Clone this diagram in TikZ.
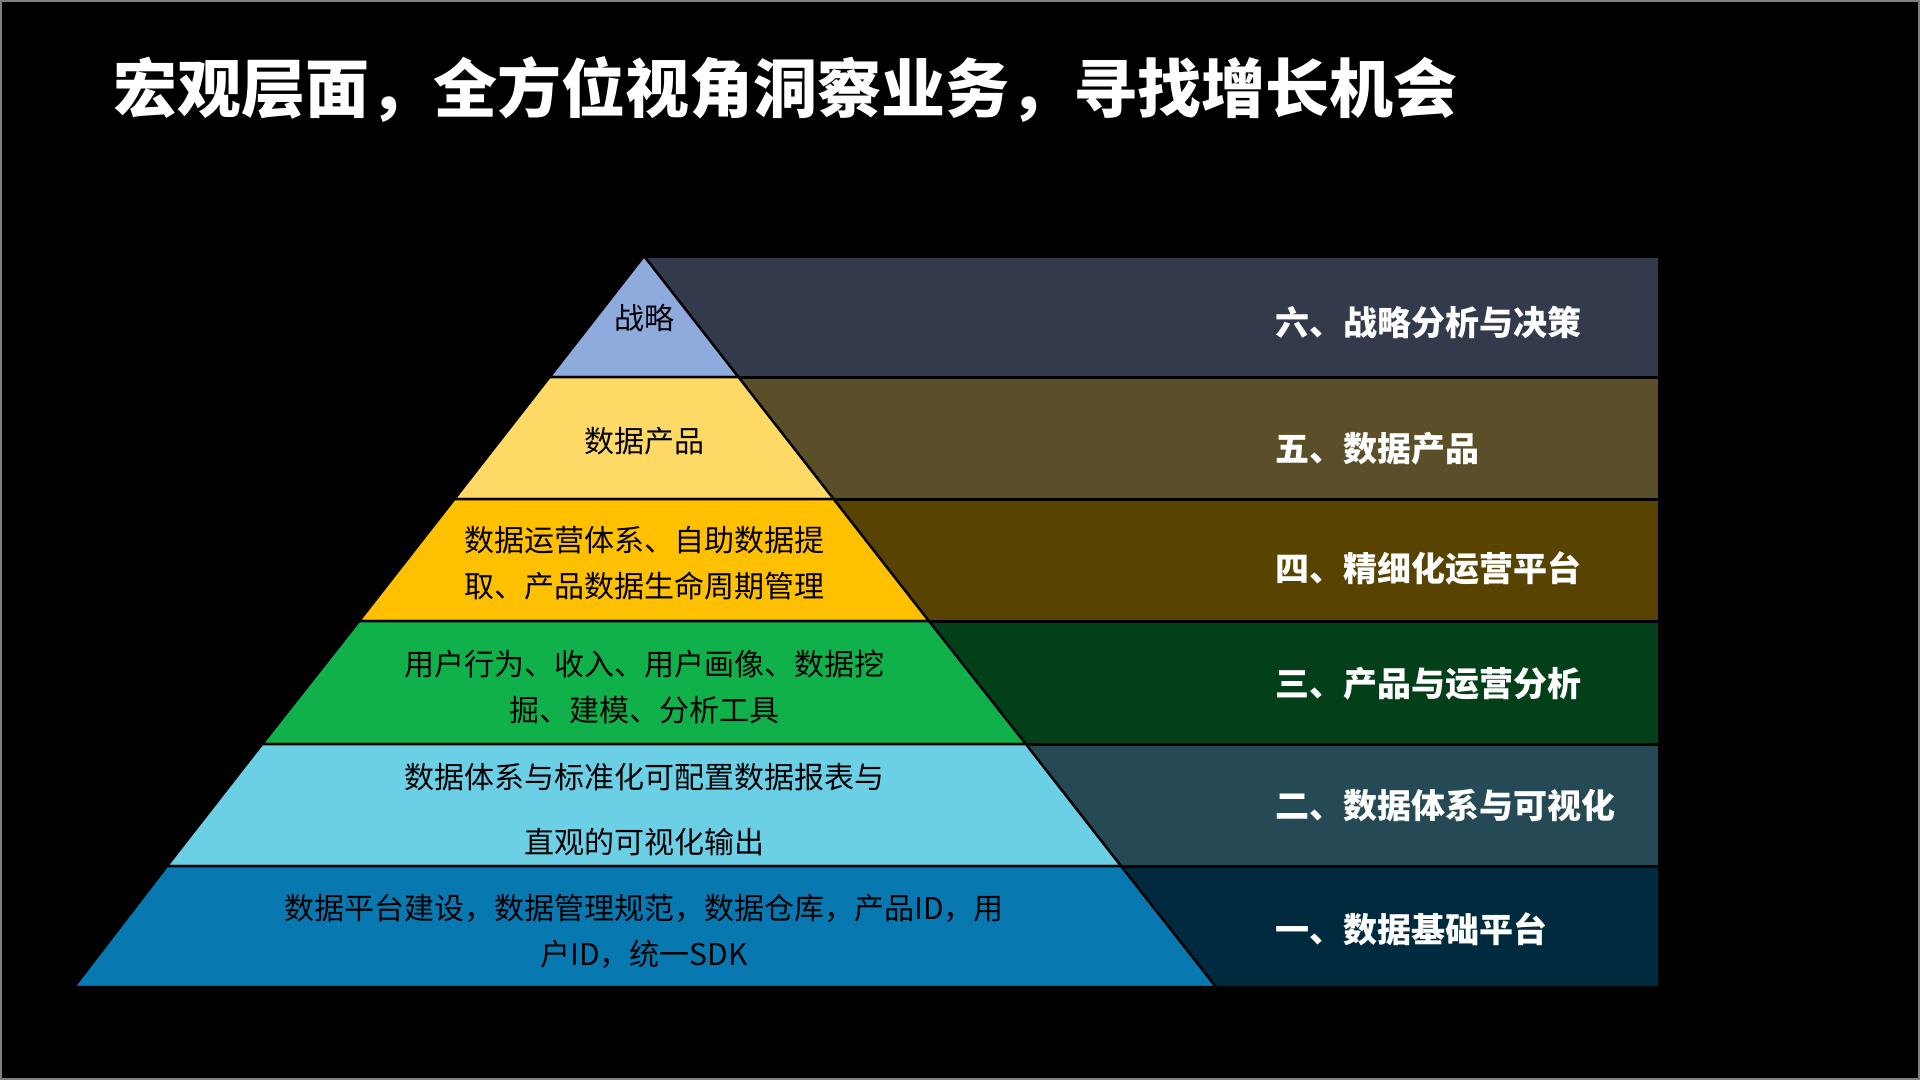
\documentclass[tikz,border=0pt]{standalone}
\usepackage{fontspec}
\setmainfont{Noto Sans CJK SC}
\definecolor{cA}{HTML}{8FAADC}
\definecolor{bA}{HTML}{333A4C}
\definecolor{cB}{HTML}{FFD966}
\definecolor{bB}{HTML}{5A4F28}
\definecolor{cC}{HTML}{FFC000}
\definecolor{bC}{HTML}{584300}
\definecolor{cD}{HTML}{10B14A}
\definecolor{bD}{HTML}{033F18}
\definecolor{cE}{HTML}{6BCFE6}
\definecolor{bE}{HTML}{264A55}
\definecolor{cF}{HTML}{0779B0}
\definecolor{bF}{HTML}{002B3F}
\definecolor{frame}{HTML}{7F7F7F}
\begin{document}
\begin{tikzpicture}[x=1pt,y=-1pt,
  band/.style={draw=black,line width=3pt},
  layer/.style={draw=black,line width=2.5pt,line join=round},
  ptext/.style={font=\fontsize{30}{46}\selectfont,text=black,align=center,inner sep=0pt},
  rtext/.style={font=\bfseries\fontsize{34}{40}\selectfont,text=white,anchor=west,inner sep=0pt},
  ttext/.style={font=\bfseries\fontsize{64}{70}\selectfont,text=white,anchor=west,inner sep=0pt}]
\useasboundingbox (0,0) rectangle (1920,1080);
\fill[black] (0,0) rectangle (1920,1080);
\draw[frame,line width=2pt] (1,1) rectangle (1919,1079);

% right bands
\filldraw[band,fill=bA] (644,256) rectangle (1659,377);
\filldraw[band,fill=bB] (644,377) rectangle (1659,499);
\filldraw[band,fill=bC] (644,499) rectangle (1659,621);
\filldraw[band,fill=bD] (644,621) rectangle (1659,744);
\filldraw[band,fill=bE] (644,744) rectangle (1659,866);
\filldraw[band,fill=bF] (644,866) rectangle (1659,987);

% pyramid layers
\filldraw[layer,fill=cA] (644,256) -- (738.4,377) -- (549.6,377) -- cycle;
\filldraw[layer,fill=cB] (549.6,377) -- (738.4,377) -- (833.6,499) -- (454.4,499) -- cycle;
\filldraw[layer,fill=cC] (454.4,499) -- (833.6,499) -- (928.9,621) -- (359.1,621) -- cycle;
\filldraw[layer,fill=cD] (359.1,621) -- (928.9,621) -- (1025.8,744) -- (262.2,744) -- cycle;
\filldraw[layer,fill=cE] (262.2,744) -- (1025.8,744) -- (1121,866) -- (167,866) -- cycle;
\filldraw[layer,fill=cF] (167,866) -- (1121,866) -- (1216,987) -- (74,987) -- cycle;

% title
\node[ttext] (title) at (113,89) {宏观层面，全方位视角洞察业务，寻找增长机会};

% pyramid texts
\node[ptext] (t6) at (644,318) {战略};
\node[ptext] (t5) at (644,441) {数据产品};
\node[ptext] (t4) at (644,563.5) {数据运营体系、自助数据提\\取、产品数据生命周期管理};
\node[ptext] (t3) at (644,687) {用户行为、收入、用户画像、数据挖\\掘、建模、分析工具};
\node[ptext,font=\fontsize{30}{65}\selectfont] (t2) at (644,809.5) {数据体系与标准化可配置数据报表与\\直观的可视化输出};
\node[ptext] (t1) at (644,931) {数据平台建设，数据管理规范，数据仓库，产品ID，用\\户ID，统一SDK};

% right labels
\node[rtext] (r6) at (1275,322) {六、战略分析与决策};
\node[rtext] (r5) at (1275,449) {五、数据产品};
\node[rtext] (r4) at (1275,568) {四、精细化运营平台};
\node[rtext] (r3) at (1275,684) {三、产品与运营分析};
\node[rtext] (r2) at (1275,805) {二、数据体系与可视化};
\node[rtext] (r1) at (1275,929) {一、数据基础平台};
\end{tikzpicture}
\end{document}
